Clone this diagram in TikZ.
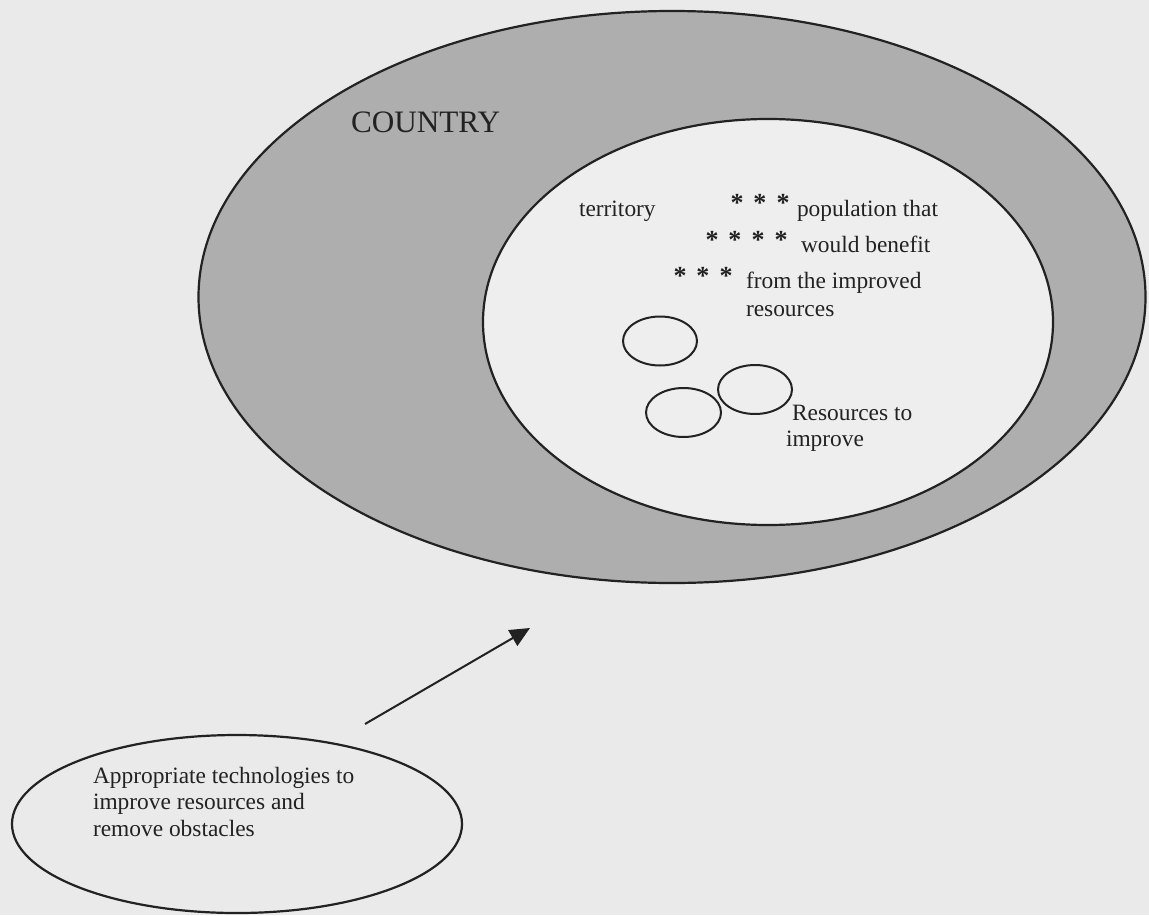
\documentclass[tikz,border=0pt]{standalone}
\usepackage{fontspec}
\setmainfont{Liberation Serif}
\usetikzlibrary{shapes.geometric,arrows.meta}
\definecolor{bgc}{HTML}{EAEAEA}
\definecolor{bandc}{HTML}{AEAEAE}
\definecolor{innerc}{HTML}{EEEEEE}
\definecolor{linec}{HTML}{222222}
\newcommand\stargap{\hspace{0.385em}}
\tikzset{
  ell/.style={ellipse, draw=linec, line width=1.1pt, inner sep=0pt, outer sep=0pt},
  lbl/.style={anchor=base west, inner sep=0pt, outer sep=0pt, text=linec, font=\fontsize{11.7}{14}\selectfont},
  stars/.style={lbl, text=linec!90!black, font=\fontsize{13}{14}\selectfont\bfseries},
  arrowline/.style={draw=linec, line width=1pt, -{Triangle[length=10pt,width=9pt]}}
}
\begin{document}
\begin{tikzpicture}[x=0.5pt,y=-0.5pt]
\fill[bgc] (0,0) rectangle (1149,915);
\useasboundingbox (0,0) rectangle (1149,915);
% country
\node[ell, fill=bandc, minimum width=473.5pt, minimum height=286pt] (country) at (672,297) {};
\node[ell, fill=innerc, minimum width=285pt, minimum height=203pt] (territory) at (768,322) {};
\node[lbl, font=\fontsize{15.6}{18}\selectfont] (countrylbl) at (351,133) {COUNTRY};
% inner texts
\node[lbl] (terrlbl) at (579,216) {territory};
\node[stars] (s1) at (730.5,211) {*\stargap*\stargap*};
\node[stars] (s2) at (705.5,248) {*\stargap*\stargap*\stargap*};
\node[stars] (s3) at (673.5,284) {*\stargap*\stargap*};
\node[lbl] (pop1) at (797,216) {population that};
\node[lbl] (pop2) at (801,252) {would benefit};
\node[lbl] (pop3) at (746,288) {from the improved};
\node[lbl] (pop4) at (746,316) {resources};
% resources
\node[ell, line width=1pt, minimum width=37pt, minimum height=24.5pt] (r1) at (660,341) {};
\node[ell, line width=1pt, minimum width=37pt, minimum height=24.5pt] (r2) at (755,389.5) {};
\node[ell, line width=1pt, minimum width=37.5pt, minimum height=24.5pt] (r3) at (683.5,412.5) {};
\node[lbl] (res1) at (792,420) {Resources to};
\node[lbl] (res2) at (786,446) {improve};
% technologies
\node[ell, minimum width=225pt, minimum height=89pt] (tech) at (237,824) {};
\node[lbl] (t1) at (93,783) {Appropriate technologies to};
\node[lbl] (t2) at (93,809) {improve resources and};
\node[lbl] (t3) at (93,836) {remove obstacles};
% arrow
\coordinate (arrs) at (365,724);
\coordinate (arre) at (530,628);
\draw[arrowline] (arrs) -- (arre);
\end{tikzpicture}
\end{document}
